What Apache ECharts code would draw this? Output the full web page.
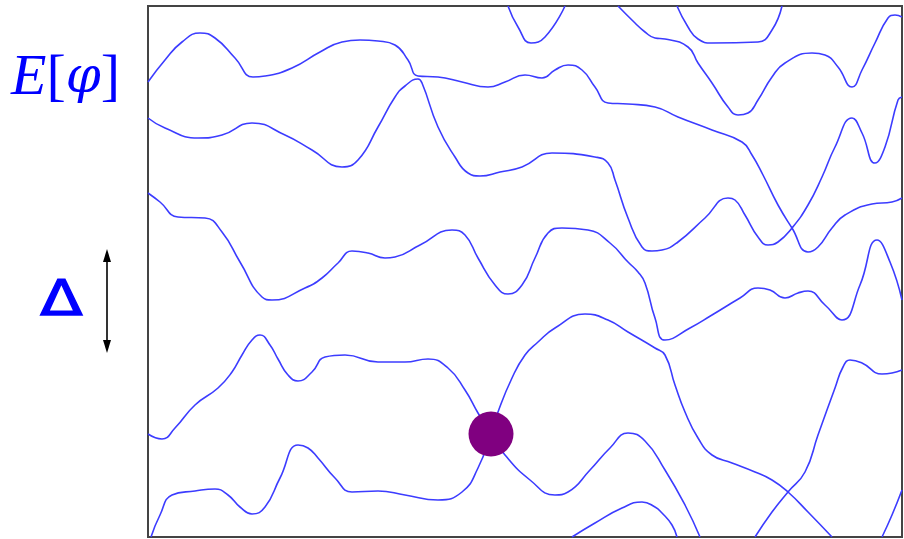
<!DOCTYPE html>
<html>
<head>
<meta charset="utf-8">
<script src="https://cdn.jsdelivr.net/npm/echarts@6/dist/echarts.min.js"></script>
<style>
  html, body { margin: 0; padding: 0; background: #fff; }
  #main { width: 904px; height: 539px; }
</style>
</head>
<body>
<div id="main"></div>
<script>
// band curves as [x, y] (x: parameter, y: energy, y axis drawn downward)
var bandA = [[148,82],[165,60],[182,42],[200,33],[215,38],[235,58],[253,77],[265,76],[292,68],[320,52],[342,42],[360,40],[378,41],[395,45],[408,60],[418,76],[438,77],[462,82],[488,87],[505,82],[525,75],[542,78],[555,70],[568,65],[582,70],[595,87],[608,103],[628,104],[655,107],[678,117],[712,130],[742,142],[752,155],[763,175],[778,205],[792,228],[808,252],[818,247],[832,228],[845,215],[872,204],[892,202],[902,198]]
var bandB = [[148,118],[165,128],[198,138],[222,135],[252,123],[285,135],[312,150],[342,167],[358,160],[378,127],[395,97],[405,86],[418,79],[422,83],[438,127],[455,157],[468,173],[480,176],[500,172],[522,167],[552,153],[595,157],[608,163],[615,180],[628,218],[642,247],[652,251],[662,250],[678,242],[705,218],[728,198],[735,200],[745,215],[758,237],[768,245],[778,242],[792,228],[808,205],[822,177],[835,147],[852,118],[862,133],[875,163],[885,147],[898,100],[902,97]]
var bandC = [[148,193],[160,202],[178,217],[205,218],[222,232],[240,262],[262,297],[272,300],[305,288],[322,278],[338,263],[352,251],[368,253],[385,258],[395,257],[420,245],[452,230],[465,235],[478,258],[495,285],[508,294],[522,285],[535,258],[548,233],[562,228],[588,230],[610,243],[628,262],[638,272],[645,283],[655,318],[665,340],[690,328],[712,315],[740,298],[758,288],[770,290],[785,298],[798,293],[808,291],[825,305],[842,320],[860,285],[877,240],[890,262],[902,300]]
var bandD = [[148,434],[162,439],[175,428],[195,405],[218,388],[232,372],[242,355],[252,340],[260,335],[270,345],[278,359],[288,375],[298,381],[312,372],[325,357],[345,355],[378,362],[405,362],[428,359],[448,368],[465,390],[478,413],[491,434],[505,455],[530,480],[555,495],[568,492],[590,470],[610,448],[628,433],[645,441],[665,470],[685,505],[700,537]]
var bandE = [[151,537],[160,515],[172,495],[195,491],[215,489],[228,495],[240,507],[252,514],[265,507],[280,478],[298,445],[308,448],[318,458],[335,478],[352,492],[378,491],[405,495],[438,500],[462,492],[478,468],[491,434],[498,412],[512,378],[525,355],[538,342],[555,328],[585,314],[608,320],[628,332],[655,348],[665,355],[675,385],[685,412],[698,438],[712,455],[732,463],[755,472],[772,480],[788,492],[808,512],[832,537]]
var bandF = [[572,537],[595,523],[622,508],[642,502],[655,507],[662,513],[672,525],[677,537]]
var bandG = [[755,537],[772,512],[788,492],[805,472],[818,435],[835,388],[843,367],[850,360],[862,363],[882,374],[892,373],[902,370]]
var bandH = [[882,537],[892,515],[902,490]]
var bandI = [[508,6],[518,27],[531,43],[545,37],[565,6]]
var bandJ = [[618,6],[635,23],[645,32],[655,38],[665,39],[688,47],[698,63],[712,83],[728,107],[738,115],[748,113],[758,100],[772,77],[785,63],[812,53],[825,55],[838,67],[852,87],[862,70],[875,43],[888,18],[895,15],[902,17]]
var bandK = [[677,6],[688,27],[698,39],[712,43],[758,42],[772,30],[782,6]]
var bands = [bandA, bandB, bandC, bandD, bandE, bandF, bandG, bandH, bandI, bandJ, bandK]

// degeneracy point
var crossing = [[491, 434]]

var chart = echarts.init(document.getElementById('main'))

var series = bands.map(function (d) {
  return {
    type: 'line',
    data: d,
    smooth: 0.5,
    showSymbol: false,
    clip: true,
    lineStyle: { color: '#3c3cff', width: 1.6 },
    silent: true
  }
})
series.push({
  type: 'scatter',
  data: crossing,
  symbolSize: 45,
  itemStyle: { color: '#800080', opacity: 1 },
  z: 5,
  silent: true
})

var option = {
  animation: false,
  grid: {
    left: 148, right: 2, top: 6, bottom: 2,
    show: true, borderColor: '#444', borderWidth: 2
  },
  xAxis: {
    type: 'value', min: 148, max: 902,
    axisLine: { show: false }, axisTick: { show: false },
    axisLabel: { show: false }, splitLine: { show: false }
  },
  yAxis: {
    type: 'value', min: 6, max: 537, inverse: true,
    axisLine: { show: false }, axisTick: { show: false },
    axisLabel: { show: false }, splitLine: { show: false }
  },
  graphic: [
    {
      type: 'text', left: 11, top: 50,
      style: {
        text: '{i|E}{u|[}{p|φ}{u|]}',
        rich: {
          i: { fontFamily: 'Liberation Serif', fontStyle: 'italic', fontSize: 58, fill: '#0000ff' },
          p: { fontFamily: 'DejaVu Serif', fontStyle: 'italic', fontSize: 50, fill: '#0000ff' },
          u: { fontFamily: 'Liberation Serif', fontSize: 58, fill: '#0000ff' }
        }
      }
    },
    {
      type: 'text', x: 40, y: 277, scaleX: 1.25,
      style: { text: 'Δ', fontFamily: 'DejaVu Sans', fontSize: 50, fill: '#0000ff', stroke: '#0000ff', lineWidth: 1.2 }
    },
    {
      type: 'line',
      shape: { x1: 107, y1: 258, x2: 107, y2: 344 },
      style: { stroke: '#000', lineWidth: 1.6 }
    },
    {
      type: 'polygon',
      shape: { points: [[107, 249], [103, 262], [111, 262]] },
      style: { fill: '#000' }
    },
    {
      type: 'polygon',
      shape: { points: [[107, 353], [103, 340], [111, 340]] },
      style: { fill: '#000' }
    }
  ],
  series: series
}

chart.setOption(option)
</script>
</body>
</html>
